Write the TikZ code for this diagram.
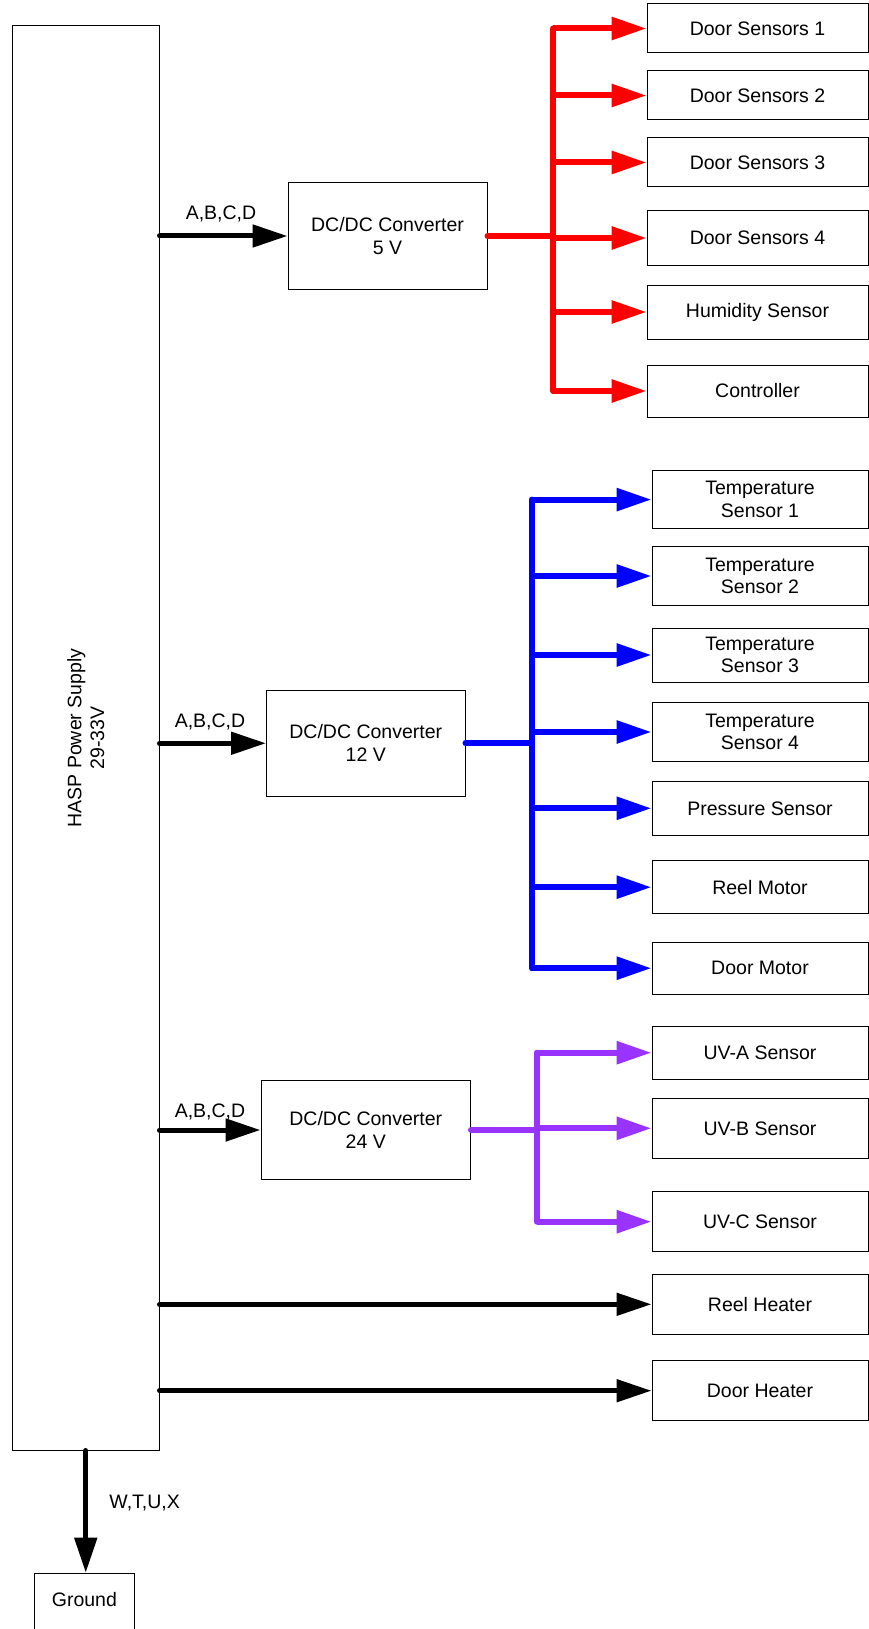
\documentclass[tikz,border=0pt]{standalone}
\usepackage{fontspec}
\setmainfont{Liberation Sans}
\usetikzlibrary{arrows.meta}
\definecolor{myred}{RGB}{255,0,0}
\definecolor{myblue}{RGB}{0,0,255}
\definecolor{mypurple}{RGB}{153,51,255}
\begin{document}
\begin{tikzpicture}[x=1pt,y=-1pt,
  txt/.style={font=\fontsize{19.5}{22.7}\selectfont},
  box/.style={draw=black, line width=1pt, inner sep=0pt, align=center, txt},
  lbl/.style={inner sep=0pt, txt},
  tip/.style={-{Triangle[length=35pt,width=22pt]}},
  blkarrow/.style={draw=black, line width=5pt, line cap=round, tip},
  redbus/.style={draw=myred, line width=6pt, line cap=round, line join=round},
  redarrow/.style={draw=myred, line width=6pt, tip},
  bluebus/.style={draw=myblue, line width=6pt, line cap=round, line join=round},
  bluearrow/.style={draw=myblue, line width=6pt, tip},
  purbus/.style={draw=mypurple, line width=6pt, line cap=round, line join=round},
  purarrow/.style={draw=mypurple, line width=6pt, tip}
]
\useasboundingbox (0,0) rectangle (869,1629);

% main power supply
\node[box, minimum width=146.5pt, minimum height=1424pt] (psu) at (85.75,738) {};
\node[lbl, rotate=90, align=center] (psulabel) at (psu.center) {HASP Power Supply\\29-33V};

% converters
\node[box, minimum width=199pt, minimum height=106pt] (conv5) at (387.5,236) {DC/DC Converter\\5 V};
\node[box, minimum width=198.5pt, minimum height=105.7pt] (conv12) at (365.75,743.25) {DC/DC Converter\\12 V};
\node[box, minimum width=209.5pt, minimum height=98.6pt] (conv24) at (365.75,1130) {DC/DC Converter\\24 V};

% 5 V loads
\node[box, minimum width=221pt, minimum height=49pt] (ds1) at (757.5,28.5) {Door Sensors 1};
\node[box, minimum width=221pt, minimum height=49pt] (ds2) at (757.5,95.5) {Door Sensors 2};
\node[box, minimum width=221pt, minimum height=49pt] (ds3) at (757.5,162.5) {Door Sensors 3};
\node[box, minimum width=221pt, minimum height=54pt] (ds4) at (757.5,238) {Door Sensors 4};
\node[box, minimum width=221pt, minimum height=54pt] (hum) at (757.5,312) {Humidity Sensor};
\node[box, minimum width=221pt, minimum height=52pt] (ctrl) at (757.5,391) {Controller};

% 12 V loads
\node[box, minimum width=216pt, minimum height=58.6pt] (ts1) at (760,499.6) {Temperature\\Sensor 1};
\node[box, minimum width=216pt, minimum height=58.5pt] (ts2) at (760,576) {Temperature\\Sensor 2};
\node[box, minimum width=216pt, minimum height=54pt] (ts3) at (760,655) {Temperature\\Sensor 3};
\node[box, minimum width=216pt, minimum height=58.5pt] (ts4) at (760,732) {Temperature\\Sensor 4};
\node[box, minimum width=216pt, minimum height=54pt] (pres) at (760,808.3) {Pressure Sensor};
\node[box, minimum width=216pt, minimum height=53.4pt] (rmot) at (760,887.2) {Reel Motor};
\node[box, minimum width=216pt, minimum height=52.4pt] (dmot) at (760,968.2) {Door Motor};

% 24 V loads
\node[box, minimum width=216pt, minimum height=53.3pt] (uva) at (760,1052.7) {UV-A Sensor};
\node[box, minimum width=216pt, minimum height=60pt] (uvb) at (760,1128.3) {UV-B Sensor};
\node[box, minimum width=216pt, minimum height=60pt] (uvc) at (760,1221.7) {UV-C Sensor};

% heaters
\node[box, minimum width=216pt, minimum height=60pt] (rheat) at (760,1304.3) {Reel Heater};
\node[box, minimum width=216pt, minimum height=60pt] (dheat) at (760,1390.7) {Door Heater};

% ground
\node[box, minimum width=99.3pt, minimum height=60pt, anchor=north] (gnd) at (84.4,1572.7) {};
\node[lbl] (gndlabel) at (84.4,1600) {Ground};

% bus coordinates
\coordinate (rbus) at (553,0);
\coordinate (bbus) at (531.5,0);
\coordinate (pbus) at (536.6,0);

% inputs to converters
\draw[blkarrow] (conv5.west -| psu.east) -- (conv5.west);
\draw[blkarrow] (conv12.west -| psu.east) -- (conv12.west);
\draw[blkarrow] (conv24.west -| psu.east) -- (conv24.west);
\node[lbl] (l5) at (221,214) {A,B,C,D};
\node[lbl] (l12) at (210,722) {A,B,C,D};
\node[lbl] (l24) at (210,1112) {A,B,C,D};

% 5 V distribution
\draw[redbus] (conv5.east) -- (conv5.east -| rbus);
\draw[redbus] (ds1.west -| rbus) -- (ctrl.west -| rbus);
\foreach \n in {ds1,ds2,ds3,ds4,hum,ctrl}
  \draw[redarrow] (\n.west -| rbus) -- (\n.west);

% 12 V distribution
\draw[bluebus] (conv12.east) -- (conv12.east -| bbus);
\draw[bluebus] (ts1.west -| bbus) -- (dmot.west -| bbus);
\foreach \n in {ts1,ts2,ts3,ts4,pres,rmot,dmot}
  \draw[bluearrow] (\n.west -| bbus) -- (\n.west);

% 24 V distribution
\draw[purbus] (conv24.east) -- (conv24.east -| pbus);
\draw[purbus] (uva.west -| pbus) -- (uvc.west -| pbus);
\foreach \n in {uva,uvb,uvc}
  \draw[purarrow] (\n.west -| pbus) -- (\n.west);

% heaters
\draw[blkarrow] (rheat.west -| psu.east) -- (rheat.west);
\draw[blkarrow] (dheat.west -| psu.east) -- (dheat.west);

% ground
\draw[blkarrow] (psu.south) -- (psu.south |- gnd.north);
\node[lbl] (lgnd) at (144.7,1503.3) {W,T,U,X};
\end{tikzpicture}
\end{document}
